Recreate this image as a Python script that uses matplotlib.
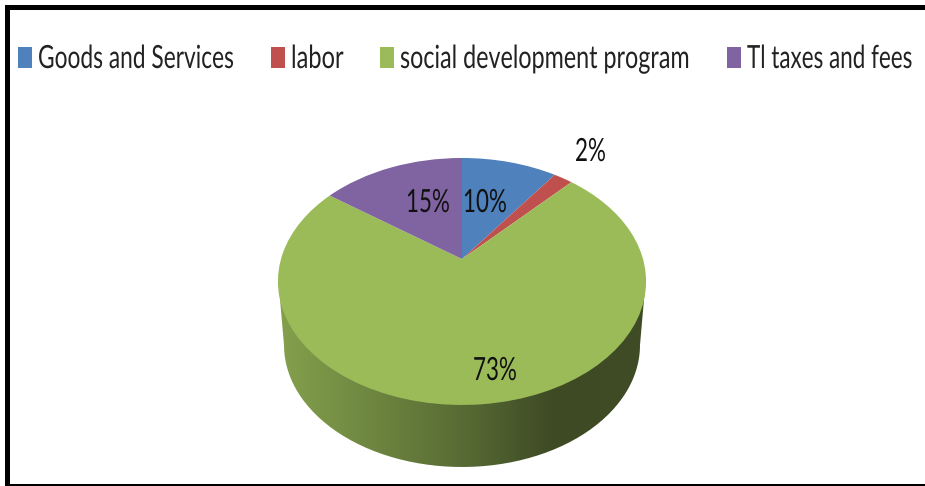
import numpy as np
import matplotlib
matplotlib.use("Agg")
import matplotlib.pyplot as plt
from matplotlib.colors import LinearSegmentedColormap
from matplotlib.patches import PathPatch, Rectangle
from matplotlib.path import Path
from matplotlib.patheffects import AbstractPathEffect
from matplotlib.text import Text
from matplotlib.transforms import Affine2D, Bbox, Transform

labels = ["Goods and Services", "labor", "social development program", "Tl taxes and fees"]
values = [10, 2, 73, 15]
colors = ["#4F81BD", "#C0504D", "#9BBB59", "#8064A2"]

legend_x = [18, 271, 380, 727]
legend_sx = [0.712, 0.74, 0.73, 0.703]
pct_pos = [(463, 212), (575, 161), (473, 380), (406, 212)]

plt.rcParams["font.family"] = ["Lato", "DejaVu Sans"]


class Tilt(Transform):
    """unit circle -> pixel coords, tilted pie with perspective"""
    input_dims = output_dims = 2

    def __init__(self, cx=462.0, cy=259.0, d=181.0, a=119.4, c=0.182):
        super().__init__()
        self.cx, self.cy, self.d, self.a, self.c = cx, cy, d, a, c

    def transform_non_affine(self, xy):
        xy = np.asarray(xy, dtype=float)
        w = 1 + self.c * xy[:, 1]
        return np.column_stack([self.cx + self.d * xy[:, 0] / w,
                                self.cy - self.a * xy[:, 1] / w])

    def transform_path_non_affine(self, path):
        return Path(self.transform_non_affine(path.vertices), path.codes)


class Squeeze(AbstractPathEffect):
    """narrow the glyphs horizontally about the text's left edge"""

    def __init__(self, sx):
        super().__init__()
        self.sx = sx

    def draw_path(self, renderer, gc, tpath, affine, rgbFace=None):
        x0 = affine.to_values()[4]
        squeezed = affine + Affine2D().translate(-x0, 0).scale(self.sx, 1).translate(x0, 0)
        renderer.draw_path(gc, tpath, squeezed, rgbFace)


class NarrowText(Text):
    """normal text, drawn condensed, and reports its condensed size"""

    def __init__(self, x, y, s, sx, **kw):
        super().__init__(x, y, s, ha="left", va="baseline",
                         path_effects=[Squeeze(sx)], **kw)
        self.sx = sx

    def get_window_extent(self, renderer=None, dpi=None):
        bb = super().get_window_extent(renderer, dpi)
        return Bbox.from_extents(bb.x0, bb.y0, bb.x0 + bb.width * self.sx, bb.y1)


fig = plt.figure(figsize=(9.25, 4.86), dpi=100, facecolor="white")
ax = fig.add_axes([0, 0, 1, 1])

wedges, _ = ax.pie(values, colors=colors, startangle=90, counterclock=False,
                   wedgeprops=dict(linewidth=0))
tilt = Tilt()
for w in wedges:
    w.set_transform(tilt + ax.transData)
    w.set_zorder(3)

ax.set_aspect("auto")
ax.axis("off")

# ---------- pie side wall ----------
t = np.linspace(0, np.pi, 120)
upper = np.column_stack([462 + 183.5 * np.cos(t), 282 - 123 * np.sin(t)])
lower = np.column_stack([462 - 178 * np.cos(t), 345 + 122 * np.sin(t)])
wall = Path(np.vstack([upper, lower, upper[:1]]))
wall_cmap = LinearSegmentedColormap.from_list(
    "wall", [(0.0, "#84A04C"), (0.2, "#738C43"), (0.5, "#586B34"),
             (0.75, "#3D4A24"), (1.0, "#3F4C25")])
img = ax.imshow(np.linspace(0, 1, 256)[None, :], cmap=wall_cmap, aspect="auto",
                extent=(278, 647, 470, 280), zorder=2)
clip = PathPatch(wall, transform=ax.transData, fc="none", ec="none")
ax.add_patch(clip)
img.set_clip_path(clip)
ax.set_xlim(0, 925)
ax.set_ylim(486, 0)

# ---------- percent labels ----------
for v, (px, py) in zip(values, pct_pos):
    ax.add_artist(NarrowText(px, py, f"{v}%", 0.70, fontsize=23, color="#111111", zorder=5))

# ---------- legend ----------
for name, col, lx, sx in zip(labels, colors, legend_x, legend_sx):
    ax.add_patch(Rectangle((lx, 47), 14, 21, fc=col, ec="none", zorder=5))
    ax.add_artist(NarrowText(lx + 20, 68, name, sx, fontsize=23, color="#222222", zorder=5))

# ---------- black frame ----------
for x, y, w, h in [(5, 5, 920, 5), (5, 5, 5, 481), (5, 484, 920, 2)]:
    ax.add_patch(Rectangle((x, y), w, h, fc="black", ec="none", zorder=6))

fig.savefig("out.png", dpi=100)
